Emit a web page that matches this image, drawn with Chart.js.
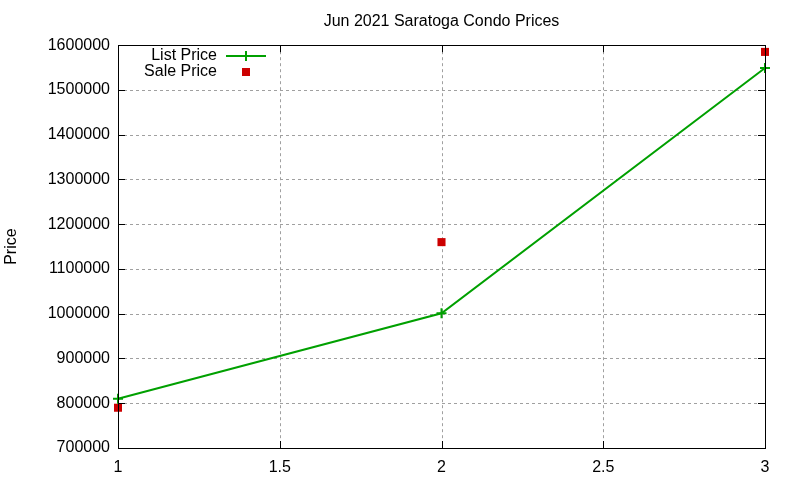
<!DOCTYPE html>
<html>
<head>
<meta charset="utf-8">
<script src="https://cdn.jsdelivr.net/npm/chart.js@4.4.0/dist/chart.umd.min.js"></script>
<style>
  html, body { margin: 0; padding: 0; background: #fff; }
  #wrap { width: 800px; height: 480px; }
</style>
</head>
<body>
<div id="wrap"><canvas id="myChart"></canvas></div>
<script>
const xValues = [1, 2, 3];
const listPrices = [810000, 1001000, 1549000];
const salePrices = [790000, 1160000, 1585000];
const xTicks = [1, 1.5, 2, 2.5, 3];
const yTicks = [700000, 800000, 900000, 1000000, 1100000, 1200000, 1300000, 1400000, 1500000, 1600000];

const FONT = 'Liberation Sans, Arial, sans-serif';

// dashed grid behind the data
const gridPlugin = {
    id: 'dashGrid',
    beforeDatasetsDraw(chart) {
        const ctx = chart.ctx;
        const a = chart.chartArea;
        const xs = chart.scales.x;
        const ys = chart.scales.y;
        ctx.save();
        ctx.strokeStyle = '#a0a0a0';
        ctx.lineWidth = 1;
        ctx.setLineDash([3, 3]);
        ctx.beginPath();
        xTicks.forEach(function (t) {
            const px = Math.round(xs.getPixelForValue(t)) + 0.5;
            ctx.moveTo(px, a.top); ctx.lineTo(px, a.bottom);
        });
        yTicks.forEach(function (t) {
            const py = Math.round(ys.getPixelForValue(t)) + 0.5;
            ctx.moveTo(a.left, py); ctx.lineTo(a.right, py);
        });
        ctx.stroke();
        ctx.restore();
    }
};

// frame, inward tick marks and the legend box inside the plot
const framePlugin = {
    id: 'frame',
    afterDraw(chart) {
        const ctx = chart.ctx;
        const a = chart.chartArea;
        const xs = chart.scales.x;
        const ys = chart.scales.y;
        ctx.save();
        ctx.strokeStyle = '#000';
        ctx.lineWidth = 1;
        ctx.setLineDash([]);
        ctx.strokeRect(Math.round(a.left) + 0.5, Math.round(a.top) + 0.5,
            Math.round(a.right - a.left), Math.round(a.bottom - a.top));
        ctx.beginPath();
        xTicks.forEach(function (t) {
            const px = Math.round(xs.getPixelForValue(t)) + 0.5;
            ctx.moveTo(px, a.bottom); ctx.lineTo(px, a.bottom - 7);
            ctx.moveTo(px, a.top); ctx.lineTo(px, a.top + 7);
        });
        yTicks.forEach(function (t) {
            const py = Math.round(ys.getPixelForValue(t)) + 0.5;
            ctx.moveTo(a.left, py); ctx.lineTo(a.left + 7, py);
            ctx.moveTo(a.right, py); ctx.lineTo(a.right - 7, py);
        });
        ctx.stroke();

        // legend
        const ds = chart.data.datasets;
        ctx.font = '16px ' + FONT;
        ctx.fillStyle = '#000';
        ctx.textAlign = 'right';
        ctx.textBaseline = 'middle';
        ctx.fillText(ds[0].label, 217, 56);
        ctx.fillText(ds[1].label, 217, 72);

        ctx.strokeStyle = ds[0].borderColor;
        ctx.lineWidth = 2;
        ctx.beginPath();
        ctx.moveTo(226, 56); ctx.lineTo(266, 56);
        ctx.moveTo(246, 51); ctx.lineTo(246, 61);
        ctx.stroke();

        ctx.fillStyle = ds[1].backgroundColor;
        ctx.fillRect(242, 68, 8, 8);
        ctx.restore();
    }
};

const ctx = document.getElementById('myChart').getContext('2d');
const myChart = new Chart(ctx, {
    type: 'scatter',
    data: {
        datasets: [{
            label: 'List Price',
            data: xValues.map(function (x, i) { return { x: x, y: listPrices[i] }; }),
            showLine: true,
            borderColor: '#00a000',
            backgroundColor: '#00a000',
            borderWidth: 2,
            pointStyle: 'cross',
            pointRadius: 5,
            pointBorderWidth: 2,
            clip: false
        }, {
            label: 'Sale Price',
            data: xValues.map(function (x, i) { return { x: x, y: salePrices[i] }; }),
            showLine: false,
            borderColor: '#cc0000',
            backgroundColor: '#cc0000',
            pointStyle: 'rect',
            pointRadius: 5.7,
            pointBorderWidth: 0,
            clip: false
        }]
    },
    options: {
        responsive: true,
        maintainAspectRatio: false,
        animation: false,
        layout: {
            padding: { left: 0, right: 35, top: 0, bottom: 0 }
        },
        plugins: {
            legend: { display: false },
            tooltip: { enabled: false },
            title: {
                display: true,
                text: 'Jun 2021 Saratoga Condo Prices',
                fullSize: false,
                color: '#000',
                font: { family: FONT, size: 16, weight: 'normal' },
                padding: { top: 12, bottom: 14 }
            }
        },
        scales: {
            x: {
                type: 'linear',
                min: 1,
                max: 3,
                afterBuildTicks: function (scale) {
                    scale.ticks = xTicks.map(function (v) { return { value: v }; });
                },
                afterFit: function (scale) { scale.height = 32; },
                grid: { display: false, drawTicks: false },
                border: { display: false },
                ticks: {
                    color: '#000',
                    padding: 10,
                    font: { family: FONT, size: 16 },
                    maxRotation: 0,
                    callback: function (v) { return String(v); }
                }
            },
            y: {
                min: 700000,
                max: 1600000,
                afterBuildTicks: function (scale) {
                    scale.ticks = yTicks.map(function (v) { return { value: v }; });
                },
                afterFit: function (scale) { scale.width = 118; },
                grid: { display: false, drawTicks: false },
                border: { display: false },
                title: {
                    display: true,
                    text: 'Price',
                    color: '#000',
                    font: { family: FONT, size: 16 },
                    padding: { top: 2, bottom: 0 }
                },
                ticks: {
                    color: '#000',
                    padding: 8,
                    font: { family: FONT, size: 16 },
                    callback: function (v) { return String(v); }
                }
            }
        }
    },
    plugins: [gridPlugin, framePlugin]
});
</script>
</body>
</html>
